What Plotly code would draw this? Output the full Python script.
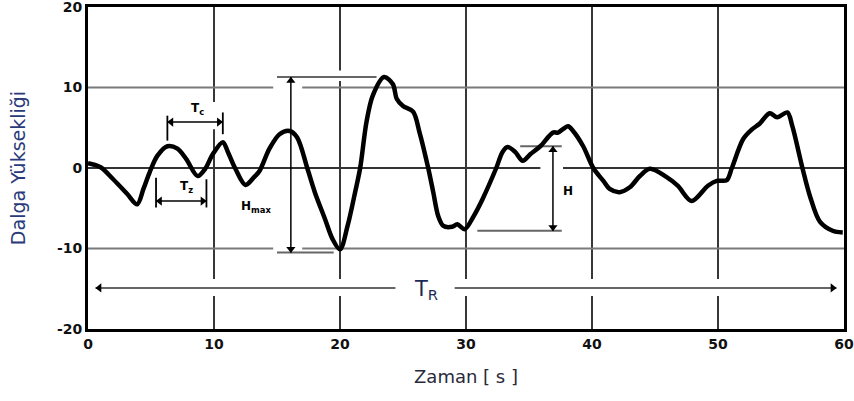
import plotly.graph_objects as go

# ---- data ----
time_s = [0.0, 1.0, 2.0, 3.1, 3.9, 4.4, 4.9, 5.5, 6.3, 7.1, 7.8, 8.7, 9.3, 9.9, 10.7, 11.1, 11.7,
          12.5, 13.2, 13.6, 14.4, 15.2, 16.0, 16.6, 17.4, 18.0, 18.8, 19.4, 20.0, 20.6, 21.2, 21.6,
          22.1, 22.6, 23.5, 24.2, 24.5, 25.0, 25.8, 26.3, 27.0, 27.4, 27.8, 28.2, 28.9, 29.3, 29.9,
          30.6, 31.3, 32.4, 32.9, 33.3, 33.9, 34.5, 35.1, 35.9, 36.9, 37.3, 38.1, 38.5, 39.3, 40.1,
          40.9, 41.4, 42.2, 43.0, 43.8, 44.6, 45.9, 46.8, 47.9, 49.2, 49.9, 50.7, 51.1, 52.0, 52.7,
          53.3, 54.1, 54.7, 55.5, 55.9, 56.7, 57.3, 58.1, 59.1, 59.9]
height = [0.6, 0.1, -1.4, -3.2, -4.5, -2.6, -0.5, 1.5, 2.7, 2.4, 1.1, -1.0, -0.1, 1.7, 3.2, 2.0, -0.1,
          -2.1, -1.1, -0.4, 2.4, 4.2, 4.6, 3.8, 0.0, -3.0, -6.3, -8.8, -10.1, -7.2, -3.0, 0.0,
          5.7, 9.0, 11.3, 10.4, 8.6, 7.7, 7.0, 4.5, 0.0, -3.0, -6.0, -7.2, -7.3, -7.0, -7.6,
          -6.0, -3.9, 0.0, 2.0, 2.6, 2.0, 0.9, 1.7, 2.7, 4.4, 4.4, 5.2, 4.6, 2.7, 0.0,
          -1.6, -2.6, -3.0, -2.4, -1.0, -0.1, -1.1, -2.2, -4.1, -2.2, -1.6, -1.5, 0.0, 3.6, 4.8,
          5.5, 6.8, 6.3, 6.9, 5.2, 0.0, -3.5, -6.7, -7.8, -8.0]

x_ticks = [0, 10, 20, 30, 40, 50, 60]
x_tick_text = ["0", "10", "20", "30", "40", "50", "60"]
y_ticks = [-20, -10, 0, 10, 20]
y_tick_text = ["-20", "-10", "0", "10", "20"]

# annotation values
hmax_top, hmax_bottom, hmax_t = 11.3, -10.5, 16.1
h_top, h_bottom, h_t = 2.7, -7.8, 36.9
tc_start, tc_end, tc_level = 6.3, 10.7, 5.7
tz_start, tz_end, tz_level = 5.4, 9.4, -4.1
tr_start, tr_end, tr_level = 0.6, 59.4, -14.9
tr_gap = (24.4, 29.1)

fig = go.Figure()
fig.add_trace(go.Scatter(x=time_s, y=height, mode="lines",
                         line=dict(color="black", width=4.5, shape="spline", smoothing=0.9),
                         hoverinfo="skip", showlegend=False))

shapes = []
def seg(x0, y0, x1, y1, color="#222", width=1.8, layer="below"):
    shapes.append(dict(type="line", xref="x", yref="y", x0=x0, y0=y0, x1=x1, y1=y1,
                       line=dict(color=color, width=width), layer=layer))

# vertical grid lines (with gaps where the annotations cross them)
seg(10, 20, 10, 8.2); seg(10, 4.8, 10, -13.8); seg(10, -15.9, 10, -20)
seg(20, 20, 20, 12.1); seg(20, 10.8, 20, -13.8); seg(20, -15.9, 20, -20)
for gx in [30, 40, 50]:
    seg(gx, 20, gx, -13.8); seg(gx, -15.9, gx, -20)
# horizontal grid lines
hc = "#7a7a7a"
seg(0, 10, 14.7, 10, hc, 2); seg(17.0, 10, 60, 10, hc, 2)
seg(0, -10, 14.7, -10, hc, 2); seg(17.0, -10, 60, -10, hc, 2)
seg(0, 0, 35.9, 0, "#333", 2.2); seg(37.7, 0, 60, 0, "#333", 2.2)
# reference lines for Hmax and H
seg(15.0, hmax_top, 22.9, hmax_top, "#666", 2)
seg(15.0, hmax_bottom, 19.5, hmax_bottom, "#666", 2)
seg(34.3, h_top, 37.6, h_top, "#666", 2)
seg(30.9, h_bottom, 37.6, h_bottom, "#666", 2)
# T_R line segments
seg(tr_start, tr_level, tr_gap[0], tr_level, "#666", 2)
seg(tr_gap[1], tr_level, tr_end, tr_level, "#666", 2)
# dimension lines
seg(hmax_t, hmax_top, hmax_t, hmax_bottom, "black", 1.5)
seg(h_t, h_top, h_t, h_bottom, "black", 1.5)
seg(tc_start, tc_level, tc_end, tc_level, "black", 1.5)
seg(tz_start, tz_level, tz_end, tz_level, "black", 1.5)
# Tc / Tz end bars
seg(tc_start, tc_level + 0.8, tc_start, tc_level - 2.3, "black", 1.8)
seg(tc_end, tc_level + 1.2, tc_end, tc_level - 1.5, "black", 1.8)
seg(tz_start, tz_level + 2.9, tz_start, tz_level - 0.8, "black", 1.8)
seg(tz_end, tz_level + 2.7, tz_end, tz_level - 0.8, "black", 1.8)

# arrow heads as markers (centre pulled back from the tip by half a head)
dy, dx = 0.45, 0.3
heads = [
    (hmax_t, hmax_top - dy, "triangle-up"), (hmax_t, hmax_bottom + dy, "triangle-down"),
    (h_t, h_top - dy, "triangle-up"), (h_t, h_bottom + dy, "triangle-down"),
    (tc_start + dx, tc_level, "triangle-left"), (tc_end - dx, tc_level, "triangle-right"),
    (tz_start + dx, tz_level, "triangle-left"), (tz_end - dx, tz_level, "triangle-right"),
    (tr_start + dx, tr_level, "triangle-left"), (tr_end - dx, tr_level, "triangle-right"),
]
fig.add_trace(go.Scatter(x=[h[0] for h in heads], y=[h[1] for h in heads], mode="markers",
                         marker=dict(symbol=[h[2] for h in heads], size=8, color="black"),
                         hoverinfo="skip", showlegend=False))

annotations = []
lab_font = dict(family="DejaVu Sans", size=12, color="black", weight="bold")
def label(x, y, text, font=lab_font):
    annotations.append(dict(x=x, y=y, xref="x", yref="y", text=text, showarrow=False, font=font))

label(8.7, 7.3, "T<sub>c</sub>")
label(7.8, -2.4, "T<sub>z</sub>")
label(13.3, -4.8, "H<sub>max</sub>")
label(38.1, -2.8, "H")
label(26.8, tr_level - 0.3, "T<sub>R</sub>", dict(family="DejaVu Sans", size=21, color="#1c2a55"))

fig.update_layout(
    width=854, height=401,
    margin=dict(l=88, r=10, t=7, b=72),
    paper_bgcolor="white", plot_bgcolor="white",
    shapes=shapes, annotations=annotations,
    xaxis=dict(range=[0, 60], tickvals=x_ticks, ticktext=x_tick_text, showgrid=False, zeroline=False,
               showline=True, mirror=True, linewidth=3, linecolor="black", ticks="", automargin=False,
               ticklabeloverflow="allow",
               tickfont=dict(family="DejaVu Sans", size=14, color="#111", weight="bold"),
               title=dict(text="Zaman [ s ]", standoff=20,
                          font=dict(family="DejaVu Sans", size=18, color="#2a2a3a"))),
    yaxis=dict(range=[-20, 20], tickvals=y_ticks, ticktext=y_tick_text, showgrid=False, zeroline=False,
               showline=True, mirror=True, linewidth=3, linecolor="black", ticks="", automargin=False,
               ticklabeloverflow="allow",
               tickfont=dict(family="DejaVu Sans", size=14, color="#111", weight="bold"),
               title=dict(text="Dalga Yüksekliği", standoff=27,
                          font=dict(family="DejaVu Sans", size=19, color="#2a3a7a"))),
)

fig.write_html("out.html", config={"displayModeBar": False},
               post_script="document.body.style.margin='0px';")
